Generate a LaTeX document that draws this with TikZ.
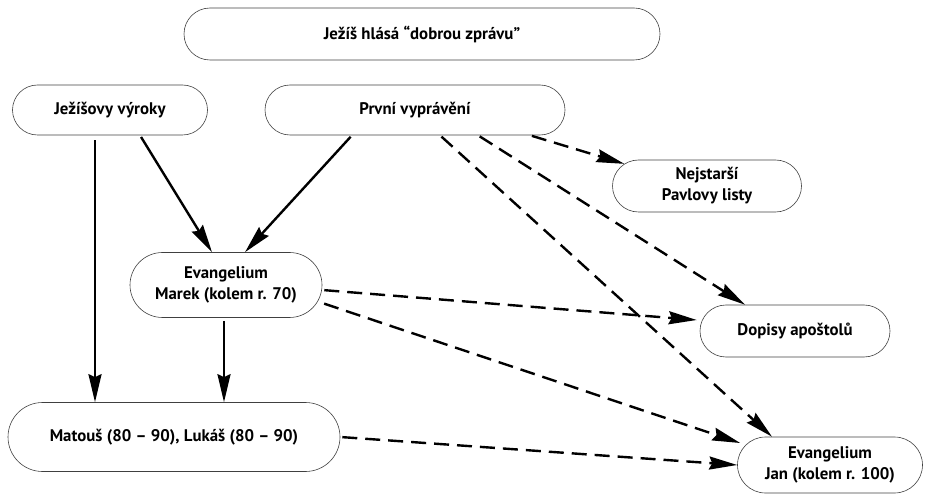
\documentclass[tikz,border=0pt]{standalone}
\usepackage{fontspec}
\setmainfont{PT Sans}
\usepackage{tikz}
\usetikzlibrary{arrows.meta,shapes.misc}

\begin{document}
\begin{tikzpicture}[x=1pt,y=-1pt,
    box/.style={draw=black!75, line width=0.6pt, rounded rectangle, inner sep=0pt,
        align=center, font=\bfseries\fontsize{16.8}{21}\selectfont},
    solidarrow/.style={line width=2.4pt, -{Stealth[length=28pt,width=13pt,inset=3pt]}},
    dasharrow/.style={solidarrow, dash pattern=on 15pt off 8pt}]
    \useasboundingbox (0,0) rectangle (927,497);
    %%boxes
    \node[box, minimum width=476pt, minimum height=52pt] (top) at (422,34) {Ježíš hlásá “dobrou zprávu”};
    \node[box, minimum width=195pt, minimum height=50pt] (jv) at (110,110) {Ježíšovy výroky};
    \node[box, minimum width=300pt, minimum height=50pt] (pv) at (415,110) {První vyprávění};
    \node[box, minimum width=189pt, minimum height=52pt] (nej) at (707,186) {Nejstarší\\Pavlovy listy};
    \node[box, minimum width=192pt, minimum height=65pt] (mar) at (226,285) {Evangelium\\Marek (kolem r. 70)};
    \node[box, minimum width=190pt, minimum height=52pt] (dop) at (795,331) {Dopisy apoštolů};
    \node[box, minimum width=332pt, minimum height=69pt] (mat) at (174,437) {Matouš (80 – 90), Lukáš (80 – 90)};
    \node[box, minimum width=185pt, minimum height=56pt] (jan) at (830,465) {Evangelium\\Jan (kolem r. 100)};
    %%solid
    \draw[solidarrow, shorten <=5pt] ([xshift=-15pt]jv.south) -- ([xshift=-15pt]jv.south |- mat.north);
    \draw[solidarrow, shorten <=2pt] ([xshift=30pt]jv.south) -- ([xshift=-14pt]mar.north);
    \draw[solidarrow, shorten <=2pt] ([xshift=-63pt]pv.south) -- ([xshift=19pt]mar.north);
    \draw[solidarrow, shorten <=3pt] ([xshift=-2pt]mar.south) -- ([xshift=-2pt]mar.south |- mat.north);
    %%dashed
    \draw[dasharrow, shorten <=2pt] ([xshift=115pt]pv.south) -- (nej.165);
    \draw[dasharrow, shorten <=2pt] ([xshift=63pt]pv.south) -- ([xshift=-50pt]dop.north);
    \draw[dasharrow, shorten <=2pt] ([xshift=25pt]pv.south) -- ([xshift=-58pt]jan.north);
    \draw[dasharrow, shorten <=2pt] ([yshift=-5pt]mar.east) -- ([xshift=-3pt,yshift=11pt]dop.west);
    \draw[dasharrow, shorten <=2pt] ([yshift=-18pt]mar.east) -- ([xshift=3pt,yshift=22pt]jan.west);
    \draw[dasharrow, shorten <=2pt] (mat.east) -- (jan.west);
\end{tikzpicture}
\end{document}
